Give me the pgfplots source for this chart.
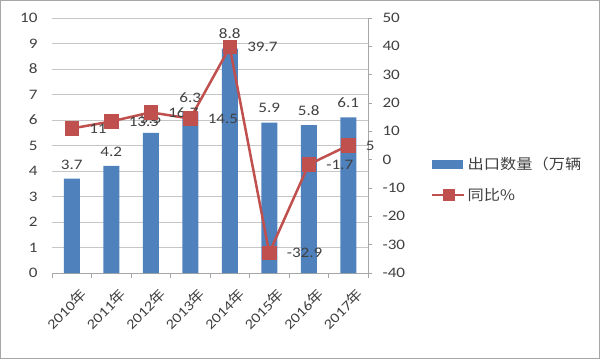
\documentclass[border=0pt]{standalone}
\usepackage{pgfplots}
\pgfplotsset{compat=1.18}
\usepackage{fontspec}
\setmainfont{Carlito}[FakeStretch=1.18]
\newfontfamily\cjk{Noto Sans CJK SC}[FakeStretch=1.12]
\definecolor{barblue}{HTML}{4F81BD}
\definecolor{linered}{HTML}{C0504D}
\definecolor{txt}{HTML}{404040}
\newcommand\f{\fontsize{14.5bp}{17bp}\selectfont}
\begin{document}
\begin{tikzpicture}[x=1bp,y=1bp]
\useasboundingbox (0,0) rectangle (600,359);
\draw[gray!70, line width=1.2bp] (0.6,0.6) rectangle (599.4,358.4);
\begin{axis}[
  at={(52bp,86bp)}, anchor=south west,
  scale only axis, width=316bp, height=255bp,
  xmin=-0.5, xmax=7.5, ymin=0, ymax=10,
  ytick={0,1,...,10},
  axis x line*=bottom, axis y line*=left,
  axis line style={-},
  y axis line style={draw=none},
  x axis line style={gray!70, line width=0.8bp},
  ymajorgrids, grid style={gray!45, line width=0.8bp},
  major tick length=0pt,
  xtick={0,1,...,7},
  xticklabels={2010{\cjk 年},2011{\cjk 年},2012{\cjk 年},2013{\cjk 年},2014{\cjk 年},2015{\cjk 年},2016{\cjk 年},2017{\cjk 年}},
  xticklabel style={rotate=45, anchor=east, font=\fontsize{14bp}{16bp}\selectfont, text=txt, xshift=-1.5bp, yshift=-22bp},
  extra x ticks={-0.5,0.5,1.5,2.5,3.5,4.5,5.5,6.5,7.5},
  extra x tick labels={},
  extra x tick style={major tick length=5bp, tick align=outside, tick style={gray!70, line width=0.8bp}},
  yticklabel style={font=\f, text=txt, xshift=-11bp},
  /pgf/number format/assume math mode=true,
  clip=false,
]
\addplot[ybar, bar width=16bp, fill=barblue, draw=none,
  point meta=explicit symbolic, nodes near coords,
  every node near coord/.append style={font=\f, text=txt, yshift=6bp}]
  table[meta=lab] {
x y lab
0 3.7 3.7
1 4.2 4.2
2 5.5 5.5
3 6.3 6.3
4 8.8 8.8
5 5.9 5.9
6 5.8 5.8
7 6.1 6.1
};
\end{axis}
\begin{axis}[
  at={(52bp,86bp)}, anchor=south west,
  scale only axis, width=316bp, height=255bp,
  xmin=-0.5, xmax=7.5, ymin=-40, ymax=50,
  ytick={-40,-30,...,50},
  axis y line*=right, axis x line=none,
  axis line style={-},
  y axis line style={gray!70, line width=0.8bp},
  tick align=outside, major tick length=4bp,
  ytick style={gray!70, line width=0.8bp},
  yticklabel style={font=\f, text=txt, xshift=7bp},
  /pgf/number format/assume math mode=true,
  clip=false,
  legend style={at={(rel axis cs:1.19,0.367)}, anchor=west, draw=none, fill=none,
    font=\f, text=txt, row sep=13bp},
  legend cell align=left,
]
\addlegendimage{legend image code/.code={\fill[barblue] (0bp,-4bp) rectangle (30bp,4bp);}}
\addlegendentry{\cjk 出口数量（万辆}
\addlegendimage{legend image code/.code={\draw[linered, line width=2.5bp] (0bp,0bp) -- (32bp,0bp); \fill[linered] (11bp,-5.5bp) rectangle (22bp,5.5bp);}}
\addlegendentry{\cjk 同比\%}
\addplot[forget plot, linered, line width=2.5bp, mark=square*, mark size=6bp,
  mark options={fill=linered, draw=none},
  point meta=explicit symbolic, nodes near coords,
  every node near coord/.append style={font=\f, text=txt, anchor=west, xshift=13bp}]
  table[meta=lab] {
x y lab
0 11 11
1 13.5 13.5
2 16.7 16.7
3 14.5 14.5
4 39.7 39.7
5 -32.9 -32.9
6 -1.7 -1.7
7 5 5
};
\end{axis}
\end{tikzpicture}
\end{document}
